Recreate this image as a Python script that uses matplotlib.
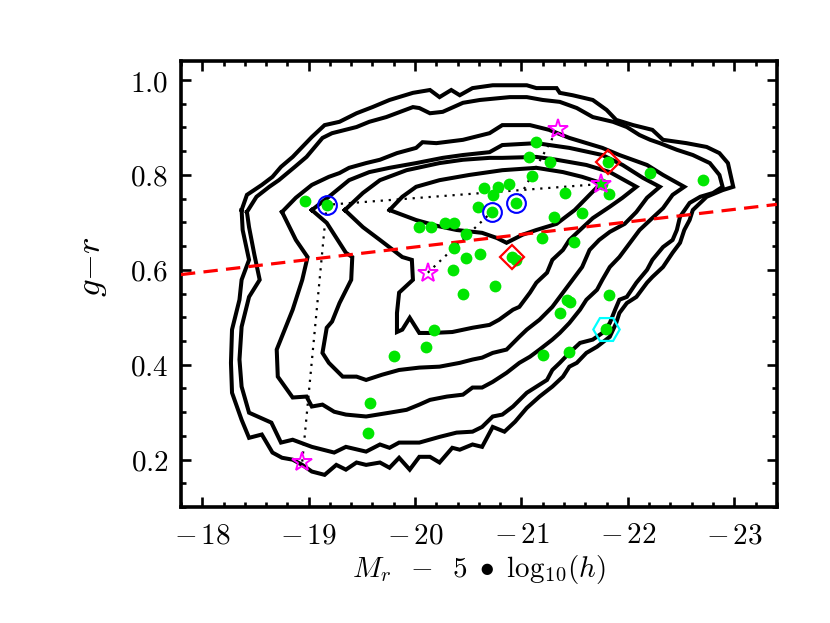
import matplotlib
matplotlib.use("Agg")
import matplotlib.pyplot as plt
from matplotlib.ticker import MultipleLocator, FuncFormatter

plt.rcParams["mathtext.fontset"] = "cm"
plt.rcParams["font.family"] = ["DejaVu Serif"]

# density contours (outer -> inner), closed loops
c1_x = [-18.37, -18.42, -18.56, -18.66, -18.74, -18.85, -18.94, -19.03, -19.15, -19.29,
        -19.45, -19.60, -19.76, -19.98, -20.14, -20.23, -20.34, -20.42, -20.54, -20.73,
        -21.05, -21.14, -21.33, -21.36, -21.48, -21.67, -21.80, -21.89, -22.05, -22.23,
        -22.33, -22.55, -22.74, -22.86, -22.94, -22.99, -22.89, -22.74, -22.61, -22.58,
        -22.53, -22.49, -22.42, -22.33, -22.23, -22.18, -22.08, -21.99, -21.92, -21.89,
        -21.83, -21.71, -21.61, -21.52, -21.45, -21.39, -21.29, -21.17, -21.05, -20.94,
        -20.84, -20.73, -20.63, -20.54, -20.42, -20.35, -20.23, -20.14, -20.04, -19.95,
        -19.85, -19.76, -19.67, -19.54, -19.45, -19.35, -19.26, -19.15, -19.03, -18.94,
        -18.85, -18.75, -18.66, -18.56, -18.44, -18.37, -18.28, -18.27, -18.28, -18.35,
        -18.37, -18.44, -18.38]
c1_y = [0.726, 0.758, 0.779, 0.796, 0.817, 0.838, 0.859, 0.880, 0.905, 0.912,
        0.930, 0.943, 0.958, 0.973, 0.979, 0.964, 0.979, 0.968, 0.983, 0.989,
        0.989, 0.983, 0.983, 0.973, 0.968, 0.958, 0.937, 0.916, 0.905, 0.895,
        0.874, 0.867, 0.859, 0.846, 0.825, 0.775, 0.768, 0.754, 0.726, 0.705,
        0.684, 0.657, 0.636, 0.606, 0.585, 0.573, 0.543, 0.530, 0.509, 0.488,
        0.459, 0.438, 0.425, 0.404, 0.396, 0.375, 0.354, 0.333, 0.309, 0.280,
        0.259, 0.269, 0.227, 0.232, 0.221, 0.225, 0.194, 0.206, 0.206, 0.179,
        0.204, 0.183, 0.194, 0.189, 0.194, 0.179, 0.189, 0.168, 0.175, 0.189,
        0.200, 0.204, 0.215, 0.253, 0.246, 0.284, 0.341, 0.404, 0.474, 0.537,
        0.579, 0.621, 0.684]

c2_x = [-18.42, -18.51, -18.63, -18.72, -18.87, -18.98, -19.13, -19.22, -19.45, -19.57,
        -19.73, -19.98, -20.04, -20.14, -20.26, -20.45, -20.61, -20.89, -21.05, -21.20,
        -21.36, -21.52, -21.67, -21.86, -21.99, -22.11, -22.21, -22.30, -22.46, -22.61,
        -22.77, -22.86, -22.89, -22.80, -22.68, -22.58, -22.49, -22.46, -22.42, -22.33,
        -22.23, -22.18, -22.08, -21.99, -21.92, -21.88, -21.83, -21.76, -21.67, -21.55,
        -21.45, -21.36, -21.29, -21.24, -21.05, -20.92, -20.82, -20.73, -20.63, -20.54,
        -20.39, -20.23, -20.04, -19.85, -19.76, -19.67, -19.54, -19.35, -19.24, -19.03,
        -18.85, -18.74, -18.65, -18.44, -18.37, -18.35, -18.37, -18.44, -18.54, -18.49,
        -18.44]
c2_y = [0.722, 0.754, 0.775, 0.789, 0.817, 0.838, 0.878, 0.888, 0.901, 0.912,
        0.922, 0.943, 0.941, 0.930, 0.933, 0.952, 0.958, 0.964, 0.964, 0.958,
        0.954, 0.941, 0.922, 0.912, 0.901, 0.884, 0.874, 0.867, 0.853, 0.842,
        0.825, 0.800, 0.775, 0.762, 0.754, 0.741, 0.712, 0.684, 0.663, 0.648,
        0.621, 0.600, 0.573, 0.543, 0.537, 0.516, 0.488, 0.467, 0.453, 0.446,
        0.425, 0.404, 0.389, 0.368, 0.341, 0.312, 0.295, 0.291, 0.269, 0.259,
        0.257, 0.248, 0.236, 0.236, 0.225, 0.232, 0.217, 0.227, 0.215, 0.227,
        0.242, 0.236, 0.278, 0.299, 0.354, 0.411, 0.480, 0.543, 0.579, 0.632,
        0.690]

c3_x = [-18.75, -18.88, -19.03, -19.19, -19.29, -19.38, -19.54, -19.67, -19.83, -20.01,
        -20.07, -20.20, -20.45, -20.70, -20.82, -21.08, -21.26, -21.45, -21.76, -21.92,
        -22.18, -22.33, -22.53, -22.42, -22.33, -22.21, -22.11, -22.02, -21.92, -21.83,
        -21.76, -21.71, -21.61, -21.55, -21.45, -21.36, -21.29, -21.17, -21.08, -20.98,
        -20.86, -20.73, -20.63, -20.54, -20.45, -20.30, -20.14, -20.04, -19.92, -19.76,
        -19.54, -19.35, -19.24, -19.13, -19.03, -18.98, -18.85, -18.71, -18.70, -18.85,
        -18.94, -18.99, -18.88]
c3_y = [0.722, 0.752, 0.779, 0.796, 0.804, 0.815, 0.825, 0.832, 0.846, 0.857,
        0.869, 0.867, 0.874, 0.888, 0.905, 0.905, 0.895, 0.878, 0.857, 0.842,
        0.821, 0.800, 0.775, 0.758, 0.730, 0.705, 0.684, 0.657, 0.627, 0.606,
        0.579, 0.558, 0.537, 0.516, 0.488, 0.467, 0.453, 0.432, 0.417, 0.404,
        0.383, 0.364, 0.352, 0.352, 0.337, 0.333, 0.326, 0.316, 0.305, 0.299,
        0.291, 0.295, 0.301, 0.316, 0.312, 0.333, 0.331, 0.375, 0.432, 0.516,
        0.579, 0.627, 0.663]

c4_x = [-19.03, -19.19, -19.38, -19.57, -19.76, -20.01, -20.26, -20.45, -20.70, -20.82,
        -21.14, -21.45, -21.76, -21.95, -22.14, -22.30, -22.18, -22.08, -21.97, -21.83,
        -21.73, -21.64, -21.57, -21.48, -21.39, -21.29, -21.17, -21.05, -20.98, -20.86,
        -20.73, -20.63, -20.54, -20.42, -20.23, -20.04, -19.85, -19.69, -19.54, -19.45,
        -19.32, -19.19, -19.13, -19.17, -19.22, -19.29, -19.40, -19.41, -19.35, -19.17]
c4_y = [0.726, 0.754, 0.789, 0.806, 0.815, 0.825, 0.836, 0.842, 0.848, 0.863,
        0.867, 0.857, 0.842, 0.821, 0.794, 0.775, 0.752, 0.722, 0.697, 0.680,
        0.663, 0.642, 0.606, 0.579, 0.552, 0.522, 0.495, 0.474, 0.459, 0.432,
        0.425, 0.415, 0.411, 0.404, 0.396, 0.394, 0.389, 0.379, 0.368, 0.375,
        0.375, 0.404, 0.425, 0.478, 0.491, 0.530, 0.579, 0.627, 0.636, 0.699]

c5_x = [-19.34, -19.51, -19.67, -19.92, -20.23, -20.45, -20.70, -20.82, -21.14, -21.33,
        -21.61, -21.83, -22.08, -21.95, -21.83, -21.67, -21.55, -21.45, -21.39, -21.29,
        -21.24, -21.14, -21.08, -20.98, -20.92, -20.79, -20.70, -20.54, -20.35, -20.16,
        -20.04, -19.95, -19.88, -19.83, -19.83, -19.85, -19.98, -19.97, -19.88, -19.67,
        -19.51]
c5_y = [0.726, 0.762, 0.789, 0.810, 0.825, 0.832, 0.836, 0.836, 0.838, 0.832,
        0.821, 0.806, 0.775, 0.752, 0.733, 0.709, 0.684, 0.663, 0.642, 0.621,
        0.594, 0.573, 0.552, 0.522, 0.516, 0.495, 0.484, 0.478, 0.469, 0.467,
        0.467, 0.499, 0.474, 0.469, 0.509, 0.552, 0.579, 0.621, 0.627, 0.663,
        0.690]

c6_x = [-19.76, -19.88, -20.01, -20.23, -20.51, -20.82, -21.14, -21.39, -21.57, -21.75,
        -21.64, -21.50, -21.33, -21.14, -21.01, -20.86, -20.77, -20.63, -20.39, -20.20,
        -20.01]
c6_y = [0.726, 0.754, 0.775, 0.789, 0.800, 0.810, 0.815, 0.806, 0.796, 0.783,
        0.758, 0.726, 0.697, 0.684, 0.674, 0.657, 0.667, 0.678, 0.684, 0.693,
        0.705]

contours_x = [c1_x, c2_x, c3_x, c4_x, c5_x, c6_x]
contours_y = [c1_y, c2_y, c3_y, c4_y, c5_y, c6_y]

# galaxies
gal_x = [-18.97, -19.17, -20.04, -20.15, -20.28, -20.37, -20.48, -20.37, -20.48, -20.61,
         -20.36, -20.65, -20.59, -20.73, -20.72, -20.78, -20.88, -20.95, -21.10, -21.07,
         -21.14, -21.27, -21.41, -21.76, -21.82, -21.31, -21.57, -21.19, -21.49, -22.21,
         -22.71, -20.91, -20.95, -20.75, -20.45, -20.18, -20.10, -19.80, -19.58, -19.56,
         -21.43, -21.46, -21.82, -21.36, -21.79, -21.20, -21.45, -21.81]
gal_y = [0.745, 0.737, 0.690, 0.690, 0.699, 0.699, 0.676, 0.646, 0.625, 0.634,
         0.600, 0.773, 0.733, 0.758, 0.722, 0.775, 0.781, 0.741, 0.798, 0.838,
         0.869, 0.827, 0.762, 0.781, 0.760, 0.712, 0.720, 0.667, 0.659, 0.804,
         0.789, 0.627, 0.621, 0.566, 0.549, 0.474, 0.438, 0.419, 0.320, 0.257,
         0.537, 0.533, 0.547, 0.509, 0.476, 0.421, 0.427, 0.827]

star_x = [-21.34, -21.75, -20.12, -18.94]
star_y = [0.897, 0.781, 0.594, 0.196]
circle_x = [-19.17, -20.72, -20.95]
circle_y = [0.737, 0.722, 0.741]
diamond_x = [-20.91, -21.81]
diamond_y = [0.627, 0.827]
hex_x = [-21.79]
hex_y = [0.476]

# tracks: star -> circle -> star, star -> circle, circle -> star
track1_x = [-18.94, -19.17, -21.75]
track1_y = [0.196, 0.737, 0.781]
track2_x = [-20.12, -20.72]
track2_y = [0.594, 0.722]
track3_x = [-20.95, -21.34]
track3_y = [0.741, 0.897]

# red dividing line
cut_x = [-17.8, -23.4]
cut_y = [0.590, 0.738]

fig = plt.figure(figsize=(8.3, 6.23), dpi=100)
ax = fig.add_axes([0.218, 0.186, 0.718, 0.716])

for cx, cy in zip(contours_x, contours_y):
    ax.plot(cx + cx[:1], cy + cy[:1], color="black", lw=2.9, solid_joinstyle="miter", zorder=2)

ax.plot(cut_x, cut_y, color="red", lw=2.3, linestyle=(0, (4.5, 2.6)), zorder=3)

for tx, ty in [(track1_x, track1_y), (track2_x, track2_y), (track3_x, track3_y)]:
    ax.plot(tx, ty, color="black", lw=1.6, linestyle=(0, (1, 2.6)), zorder=3)

ax.plot(gal_x, gal_y, "o", color="#00e600", ms=8.5, mec="none", zorder=4)
ax.plot(star_x, star_y, "*", mfc="none", mec="magenta", ms=15, mew=1.4, zorder=5)
ax.plot(circle_x, circle_y, "o", mfc="none", mec="blue", ms=13.5, mew=1.5, zorder=5)
ax.plot(diamond_x, diamond_y, "D", mfc="none", mec="red", ms=12, mew=1.6, zorder=5)
ax.plot(hex_x, hex_y, "H", mfc="none", mec="cyan", ms=19, mew=1.6, zorder=5)

ax.set_xlim(-17.8, -23.4)
ax.set_ylim(0.1, 1.04)
ax.xaxis.set_major_locator(MultipleLocator(1))
ax.xaxis.set_minor_locator(MultipleLocator(0.2))
ax.yaxis.set_major_locator(MultipleLocator(0.2))
ax.yaxis.set_minor_locator(MultipleLocator(0.05))
ax.xaxis.set_major_formatter(FuncFormatter(lambda v, p: r"$-\,%d$" % abs(round(v))))
ax.yaxis.set_major_formatter(FuncFormatter(lambda v, p: r"$%.1f$" % v))

ax.tick_params(which="both", direction="in", top=True, right=True, width=1.9)
ax.tick_params(which="major", length=7.5, labelsize=21)
ax.tick_params(axis="x", which="major", pad=10)
ax.tick_params(axis="y", which="major", pad=9)
ax.tick_params(which="minor", length=3.8)
for sp in ax.spines.values():
    sp.set_linewidth(2.6)

ax.set_xlabel(r"$M_r\;\;-\;\;5\;\bullet\;\mathrm{log}_{10}(h)$", fontsize=21, labelpad=3)
ax.set_ylabel(r"$g{-}r$", fontsize=25)
ax.yaxis.set_label_coords(-0.12, 0.54)

fig.savefig("out.png", dpi=100)
